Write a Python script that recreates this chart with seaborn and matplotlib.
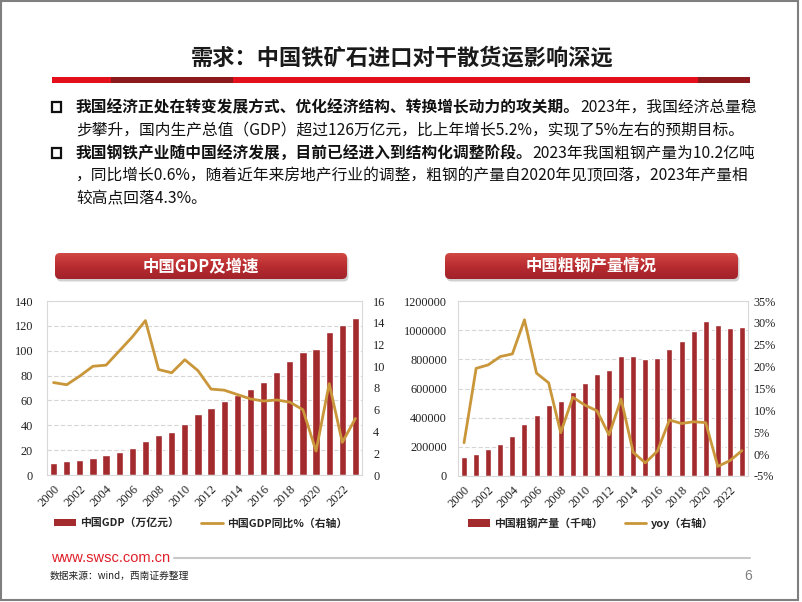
import numpy as np
import pandas as pd
import matplotlib
matplotlib.use('Agg')
import matplotlib.pyplot as plt
import seaborn as sns
from matplotlib.patches import Rectangle, FancyBboxPatch, Patch
from matplotlib.lines import Line2D
from matplotlib.colors import LinearSegmentedColormap
from matplotlib.ticker import FuncFormatter

# ---------------- data ----------------
years = [str(y) for y in range(2000, 2024)]
gdp = [10.0, 11.0, 12.1, 13.7, 16.2, 18.7, 21.9, 27.0, 31.9, 34.9, 41.2, 48.8,
       53.9, 59.3, 64.4, 68.9, 74.6, 83.2, 91.9, 98.7, 101.4, 114.9, 120.5, 126.1]
gdp_growth = [8.5, 8.3, 9.1, 10.0, 10.1, 11.4, 12.7, 14.2, 9.7, 9.4, 10.6, 9.6,
              7.9, 7.8, 7.4, 7.0, 6.8, 6.9, 6.7, 6.0, 2.2, 8.4, 3.0, 5.2]
steel = [128500, 151600, 182200, 222300, 272800, 355800, 421000, 489000, 512000,
         577000, 637000, 702000, 724000, 822000, 823000, 804000, 808000, 871000,
         928000, 996000, 1065000, 1033000, 1018000, 1019000]
steel_yoy = [2.6, 19.6, 20.4, 22.3, 22.9, 30.7, 18.5, 16.3, 4.9, 13.0, 11.2, 9.9,
             4.4, 12.6, 0.4, -2.0, 0.7, 7.8, 7.0, 7.4, 7.2, -2.8, -1.5, 0.8]

title = "需求：中国铁矿石进口对干散货运影响深远"
para_lines = [
    [("我国经济正处在转变发展方式、优化经济结构、转换增长动力的攻关期。", True), ("2023年，我国经济总量稳", False)],
    [("步攀升，国内生产总值（GDP）超过126万亿元，比上年增长5.2%，实现了5%左右的预期目标。", False)],
    [("我国钢铁产业随中国经济发展，目前已经进入到结构化调整阶段。", True), ("2023年我国粗钢产量为10.2亿吨", False)],
    [("，同比增长0.6%，随着近年来房地产行业的调整，粗钢的产量自2020年见顶回落，2023年产量相", False)],
    [("较高点回落4.3%。", False)],
]
chart1_title = "中国GDP及增速"
chart2_title = "中国粗钢产量情况"
chart1_labels = ["中国GDP（万亿元）", "中国GDP同比%（右轴）"]
chart2_labels = ["中国粗钢产量（千吨）", "yoy（右轴）"]

# ---------------- style ----------------
sns.set_style('white')
CJK = ['Noto Sans CJK SC', 'DejaVu Sans']
SERIF = ['Liberation Serif', 'DejaVu Serif']
plt.rcParams['font.family'] = CJK
plt.rcParams['axes.unicode_minus'] = False

BAR = '#A32B2E'
LINE = '#C9963A'
GRID = '#D6D6D6'

W, H = 802, 602
fig = plt.figure(figsize=(W / 100, H / 100), dpi=100)
fig.patch.set_facecolor('white')


def fx(x):
    return x / W


def fy(y):
    return 1 - y / H


# slide frame
fig.add_artist(Rectangle((fx(0.8), fy(600)), (798 - 0.8) / W, (600 - 1) / H,
                         transform=fig.transFigure, fill=False, ec='#7F7F7F', lw=1.5))

# title
fig.text(fx(402), fy(58), title, ha='center', va='center', fontsize=16,
         fontweight='bold', color='#1A1A1A', family=CJK)
fig.add_artist(Rectangle((fx(52), fy(83)), 698 / W, 6 / H, transform=fig.transFigure,
                         fc='#E3101C', ec='none'))
for a, b in [(111, 233), (698, 750)]:
    fig.add_artist(Rectangle((fx(a), fy(83)), (b - a) / W, 6 / H, transform=fig.transFigure,
                             fc='#8C1A1C', ec='none'))

# paragraphs
renderer = fig.canvas.get_renderer()
line_y = [107, 131, 153, 176, 199]
for i, segs in enumerate(para_lines):
    cur = 76
    for s, bold in segs:
        t = fig.text(fx(cur), fy(line_y[i]), s, fontsize=11.3, ha='left', va='center',
                     fontweight='bold' if bold else 'normal', color='#111111', family=CJK)
        cur += t.get_window_extent(renderer).width
for yb in (107, 153):
    fig.add_artist(Rectangle((fx(51.5), fy(yb + 4.5)), 9 / W, 9 / H, transform=fig.transFigure,
                             fill=False, ec='#111111', lw=1.6))


# banners
def banner(x0, y0, x1, y1, text):
    w, h = x1 - x0, y1 - y0
    sh = fig.add_axes([fx(x0 + 1.5), fy(y1 + 2.5), w / W, h / H])
    sh.set_xlim(0, w); sh.set_ylim(0, h); sh.axis('off')
    sh.add_patch(FancyBboxPatch((0, 0), w, h, boxstyle='round,pad=0,rounding_size=5',
                                fc='#9A9A9A', ec='none', alpha=0.45))
    bax = fig.add_axes([fx(x0), fy(y1), w / W, h / H])
    bax.set_xlim(0, w); bax.set_ylim(0, h); bax.axis('off')
    cmap = LinearSegmentedColormap.from_list('bn', ['#A1222A', '#B92C30', '#D24844'])
    grad = np.linspace(0, 1, 64).reshape(-1, 1)
    im = bax.imshow(grad, extent=[0, w, 0, h], origin='lower', cmap=cmap, aspect='auto')
    p = FancyBboxPatch((0, 0), w, h, boxstyle='round,pad=0,rounding_size=5',
                       fc='none', ec='none', transform=bax.transData)
    bax.add_patch(p)
    im.set_clip_path(p)
    bax.text(w / 2, h / 2, text, ha='center', va='center', color='white',
             fontsize=11.8, fontweight='bold', family=CJK)


banner(55, 253, 347, 279, chart1_title)
banner(445, 253, 738, 279, chart2_title)


def style_axes(ax, axr):
    ax.set_axisbelow(True)
    ax.yaxis.grid(True, color=GRID, lw=0.8, ls=(0, (4, 2)))
    ax.xaxis.grid(False)
    for s in ax.spines.values():
        s.set_visible(True)
        s.set_color('#D9D9D9')
        s.set_linewidth(0.8)
    for s in axr.spines.values():
        s.set_visible(False)
    ax.set_xlim(-0.5, 23.5)
    ax.set_xlabel(''); ax.set_ylabel(''); axr.set_ylabel('')
    ax.set_xticks(range(0, 24, 2))
    ax.set_xticklabels(years[::2], rotation=45, ha='right', rotation_mode='anchor',
                       fontsize=9, family=SERIF, color='#222222')
    ax.tick_params(axis='x', length=0, pad=6)
    for lab in ax.get_yticklabels() + axr.get_yticklabels():
        lab.set_family(SERIF)
        lab.set_fontsize(8.8)
        lab.set_color('#222222')


def legend(ax, labels, cx):
    handles = [Patch(facecolor=BAR, edgecolor='none'), Line2D([], [], color=LINE, lw=2)]
    ax.legend(handles, labels, loc='center', bbox_to_anchor=(fx(cx), fy(523)),
              bbox_transform=fig.transFigure, ncol=2, frameon=False, handlelength=2.0,
              handleheight=0.7, columnspacing=2.0, handletextpad=0.4,
              prop={'family': CJK, 'size': 7.8, 'weight': 'bold'})


# ---------------- chart 1 ----------------
ax1 = fig.add_axes([fx(47), fy(475), 315 / W, 174 / H])
sns.barplot(x=years, y=gdp, ax=ax1, color=BAR, width=0.55, saturation=1)
ax1.set_ylim(0, 140)
ax1.set_yticks(range(0, 141, 20))
ax1r = ax1.twinx()
sns.lineplot(x=years, y=gdp_growth, ax=ax1r, color=LINE, lw=2)
ax1r.set_ylim(0, 16)
ax1r.set_yticks(range(0, 17, 2))
style_axes(ax1, ax1r)
ax1.tick_params(axis='y', length=0, pad=10)
ax1r.tick_params(axis='y', length=0, pad=8)
legend(ax1, chart1_labels, 201)

# ---------------- chart 2 ----------------
ax2 = fig.add_axes([fx(458), fy(476), 290 / W, 175 / H])
sns.barplot(x=years, y=steel, ax=ax2, color=BAR, width=0.5, saturation=1)
ax2.set_ylim(0, 1200000)
ax2.set_yticks(range(0, 1200001, 200000))
ax2.yaxis.set_major_formatter(FuncFormatter(lambda v, p: f"{int(v)}"))
ax2r = ax2.twinx()
sns.lineplot(x=years, y=steel_yoy, ax=ax2r, color=LINE, lw=2)
ax2r.set_ylim(-5, 35)
ax2r.set_yticks(range(-5, 36, 5))
ax2r.yaxis.set_major_formatter(FuncFormatter(lambda v, p: f"{int(v)}%"))
style_axes(ax2, ax2r)
ax2.tick_params(axis='y', length=0, pad=8)
ax2r.tick_params(axis='y', length=0, pad=4)
legend(ax2, chart2_labels, 591)

# ---------------- footer ----------------
fig.text(fx(51), fy(558), "www.swsc.com.cn", ha='left', va='center', fontsize=10.5,
         color='#E0202A', family=['Liberation Sans', 'DejaVu Sans'])
fig.add_artist(Line2D([fx(174), fx(750)], [fy(558), fy(558)], transform=fig.transFigure,
                      color='#C8C8C8', lw=1.5))
fig.text(fx(50), fy(576), "数据来源：wind，西南证券整理", ha='left', va='center', fontsize=7,
         style='italic', color='#222222', family=CJK)
fig.text(fx(752), fy(576), "6", ha='right', va='center', fontsize=10, color='#808080',
         family=['Liberation Sans', 'DejaVu Sans'])

fig.savefig('out.png', dpi=100, facecolor='white')
